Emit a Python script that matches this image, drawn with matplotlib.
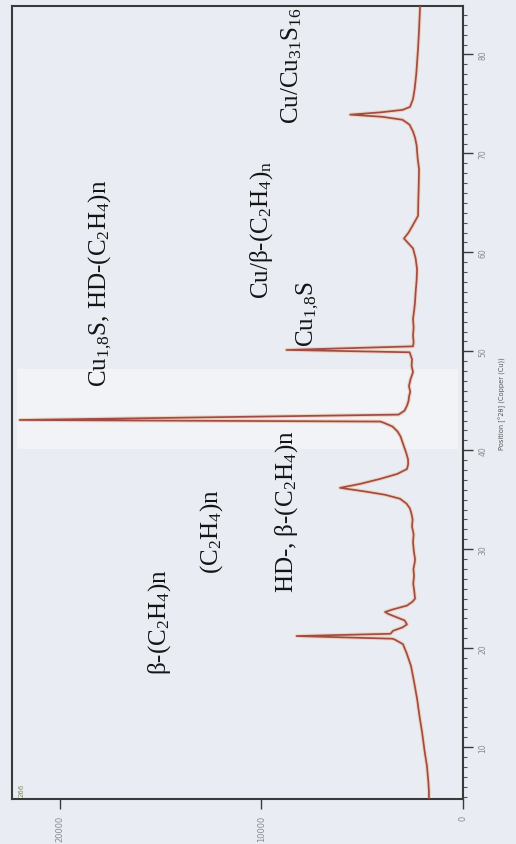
import matplotlib
matplotlib.use('Agg')
import matplotlib.pyplot as plt
from matplotlib.ticker import MultipleLocator, FixedLocator

# diffractogram, Cu K-alpha: position (deg 2theta) and counts
two_theta = [4.75, 5.5, 6.5, 8.1, 9.5, 11.5, 13.0, 14.9, 16.5, 18.2, 19.5, 20.4,
             20.85, 20.95, 21.22, 21.45, 21.75, 22.1, 22.4, 22.8, 23.1, 23.45, 23.65,
             23.9, 24.3, 24.7, 25.0, 25.8, 26.5, 27.3, 28.0, 28.6, 29.0, 29.8, 30.7,
             31.5, 32.3, 33.0, 33.6, 34.1, 34.6, 35.1, 35.5, 35.8, 36.2, 36.6, 37.1,
             37.6, 38.1, 38.6, 39.1, 39.6, 40.1, 40.8, 41.4, 41.9, 42.4, 42.75, 42.9,
             43.06, 43.6, 44.0, 44.5, 45.0, 45.4, 45.9, 46.5, 47.2, 47.9, 48.5, 49.2,
             49.9, 50.14, 50.5, 50.9, 51.6, 52.4, 53.3, 54.2, 55.0, 56.0, 57.2, 58.3,
             59.4, 60.4, 61.0, 61.4, 62.0, 62.6, 63.7, 65.0, 66.5, 68.4, 69.5, 70.8,
             71.6, 72.2, 72.9, 73.4, 73.7, 73.92, 74.15, 74.4, 74.7, 75.5, 76.5, 78.0,
             80.6, 82.5, 84.9]
counts = [1690, 1690, 1720, 1790, 1900, 2030, 2150, 2280, 2420, 2580, 2800, 2980,
          3370, 3500, 8260, 3600, 3470, 3000, 2780, 2900, 3270, 3700, 3870,
          3500, 2780, 2500, 2380, 2420, 2470, 2430, 2460, 2400, 2380, 2440, 2480,
          2450, 2530, 2500, 2560, 2630, 2800, 3130, 3870, 4760, 6100, 5100, 4120,
          3270, 2780, 2720, 2730, 2800, 2880, 3000, 3100, 3250, 3500, 3900, 4100,
          22000, 3200, 2900, 2780, 2700, 2680, 2620, 2680, 2600, 2480, 2550, 2530,
          2650, 8760, 2480, 2450, 2480, 2450, 2480, 2420, 2380, 2350, 2300, 2280,
          2350, 2480, 2750, 2930, 2700, 2530, 2230, 2220, 2200, 2180, 2250, 2300,
          2380, 2480, 2650, 3000, 4000, 5600, 4100, 3000, 2630, 2480, 2400, 2320,
          2230, 2180, 2130]

# phase assignments written beside the reflections
phase_text = [r'β-(C$_2$H$_4$)n',
              r'(C$_2$H$_4$)n',
              r'HD-, β-(C$_2$H$_4$)n',
              r'Cu$_{1{,}8}$S, HD-(C$_2$H$_4$)n',
              r'Cu/β-(C$_2$H$_4$)$_\mathrm{n}$',
              r'Cu$_{1{,}8}$S',
              r'Cu/Cu$_{31}$S$_{16}$']
phase_theta = [22.74, 31.84, 33.86, 57.02, 62.38, 53.88, 78.96]
phase_counts = [15035, 12455, 8733, 18012, 9974, 7691, 8485]

count_ticks = [0, 10000, 20000]
count_tick_labels = ['0', '10000', '20000']

plt.rcParams['font.family'] = ['Liberation Serif', 'DejaVu Serif']
plt.rcParams['mathtext.fontset'] = 'custom'
plt.rcParams['mathtext.rm'] = 'Liberation Serif'
plt.rcParams['mathtext.it'] = 'Liberation Serif:italic'
plt.rcParams['mathtext.bf'] = 'Liberation Serif:bold'

bg = '#e9edf3'
fig = plt.figure(figsize=(5.16, 8.45), dpi=100, facecolor=bg)
ax = fig.add_axes([12 / 516, 45 / 845, 451 / 516, 793 / 845], facecolor=bg)

# lighter strip across the plot
ax.axhspan(40.1, 48.2, xmin=0.01, xmax=0.99, color='#f1f3f7', lw=0, zorder=0)

# the trace runs up the page: counts grow to the left
ax.plot(counts, two_theta, color='#efd3c0', lw=2.8, solid_joinstyle='round', zorder=2)
ax.plot(counts, two_theta, color='#a04c46', lw=1.25, solid_joinstyle='round', zorder=3)

ax.set_xlim(22380, 0)
ax.set_ylim(4.75, 84.9)

for s in ax.spines.values():
    s.set_color('#3a3a3a')
    s.set_linewidth(1.5)

# counts axis along the bottom
ax.xaxis.set_major_locator(FixedLocator(count_ticks))
ax.set_xticklabels(count_tick_labels, rotation=90, fontsize=6, color='#8a8a8a',
                   family='DejaVu Sans')
ax.tick_params(axis='x', direction='out', length=7, width=1.0, color='#3a3a3a', pad=4)

# 2theta axis on the right
ax.yaxis.tick_right()
ax.yaxis.set_label_position('right')
ax.yaxis.set_major_locator(MultipleLocator(10))
ax.yaxis.set_minor_locator(MultipleLocator(1))
ax.set_yticks(range(10, 81, 10))
ax.set_yticklabels([str(v) for v in range(10, 81, 10)], rotation=90, fontsize=5.5,
                   color='#8a8a8a', family='DejaVu Sans', va='center')
ax.tick_params(axis='y', which='major', direction='out', length=7, width=1.0,
               color='#3a3a3a', pad=4)
ax.tick_params(axis='y', which='minor', direction='out', length=3, width=0.8,
               color='#555555')
ax.set_ylabel('Position [°2θ] (Copper (Cu))', rotation=90, fontsize=4.8,
              color='#555555', family='DejaVu Sans', labelpad=8)

ax.text(0.021, 0.0126, '266', transform=ax.transAxes, rotation=90, fontsize=5,
        color='#7d8a5a', ha='center', va='center', family='DejaVu Sans')

for txt, th, c in zip(phase_text, phase_theta, phase_counts):
    ax.text(c, th, txt, rotation=90, fontsize=18, color='#141414',
            ha='center', va='center', zorder=4)

fig.savefig('out.png', dpi=100, facecolor=bg)
